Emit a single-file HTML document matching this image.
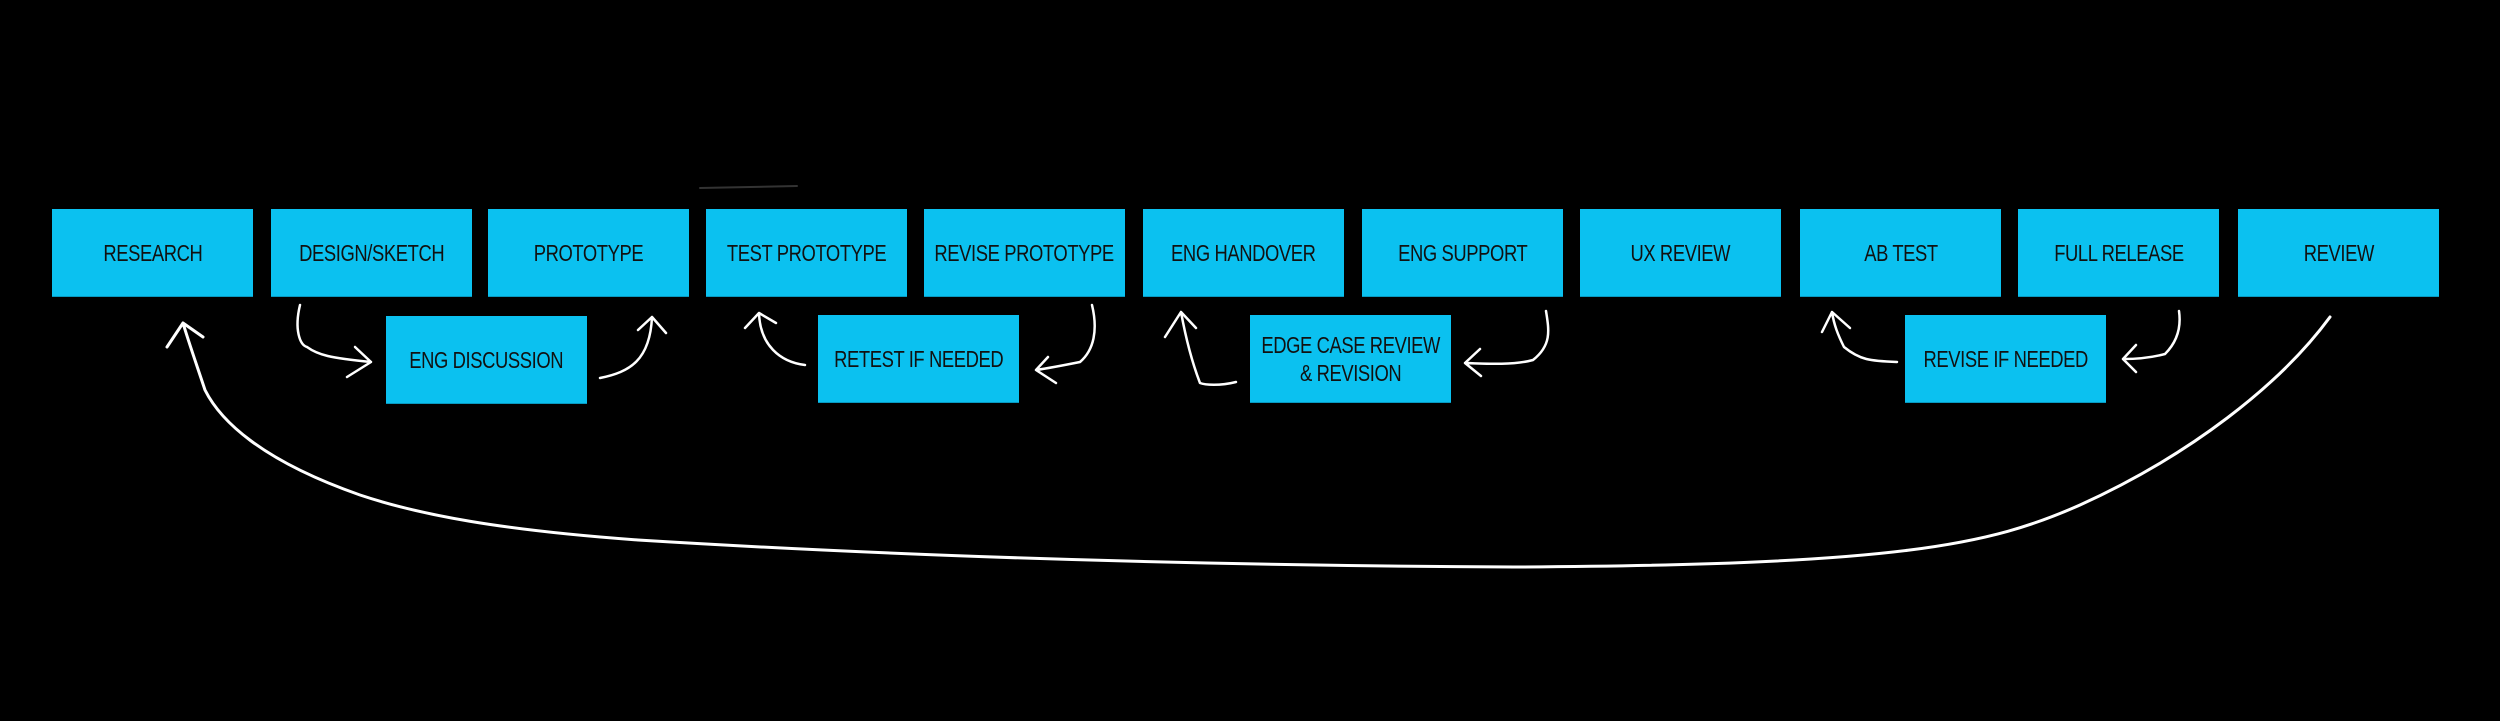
<!DOCTYPE html>
<html><head><meta charset="utf-8"><style>
html,body{margin:0;padding:0;background:#000;}
body{width:2500px;height:721px;position:relative;overflow:hidden;}
.b{position:absolute;width:201px;height:88px;background:#0bc1f0;border-bottom:1px solid #0899c0;box-sizing:border-box;display:flex;align-items:center;justify-content:center;text-align:center;}
.b span{display:inline-block;font-family:"Liberation Sans",sans-serif;font-size:23px;color:#111;transform:scaleX(0.8);white-space:nowrap;line-height:28px;letter-spacing:-0.5px;}
.t{top:209px;}
svg{position:absolute;left:0;top:0;}
</style></head><body>
<div class="b t" style="left:52px"><span>RESEARCH</span></div>
<div class="b t" style="left:271px"><span>DESIGN/SKETCH</span></div>
<div class="b t" style="left:488px"><span>PROTOTYPE</span></div>
<div class="b t" style="left:706px"><span>TEST PROTOTYPE</span></div>
<div class="b t" style="left:924px"><span>REVISE PROTOTYPE</span></div>
<div class="b t" style="left:1143px"><span>ENG HANDOVER</span></div>
<div class="b t" style="left:1362px"><span>ENG SUPPORT</span></div>
<div class="b t" style="left:1580px"><span>UX REVIEW</span></div>
<div class="b t" style="left:1800px"><span>AB TEST</span></div>
<div class="b t" style="left:2018px"><span>FULL RELEASE</span></div>
<div class="b t" style="left:2238px"><span>REVIEW</span></div>
<div class="b" style="left:386px;top:316px"><span>ENG DISCUSSION</span></div>
<div class="b" style="left:818px;top:315px"><span>RETEST IF NEEDED</span></div>
<div class="b" style="left:1250px;top:315px"><span>EDGE CASE REVIEW<br>&amp; REVISION</span></div>
<div class="b" style="left:1905px;top:315px"><span>REVISE IF NEEDED</span></div>
<svg width="2500" height="721" viewBox="0 0 2500 721" fill="none" stroke="#fff" stroke-width="2.5" stroke-linecap="round" stroke-linejoin="round">
<line x1="700" y1="188" x2="797" y2="186" stroke="#333" stroke-width="2"/>
<path d="M300,305 C294,330 300,345 307,347 C318,355 330,358 371,362 M355,347 L371,362 L347,377"/>
<path d="M600,378 C630,372 650,360 652,317 M638,330 L652,317 L666,333"/>
<path d="M805,365 C780,362 760,345 759,313 M745,328 L759,313 L776,323"/>
<path d="M1092,305 C1098,330 1094,350 1080,362 C1060,366 1050,368 1036,370 M1048,357 L1036,370 L1056,383"/>
<path d="M1236,382 C1220,386 1205,385 1200,383 C1195,370 1188,350 1181,312 M1165,337 L1181,312 L1196,328"/>
<path d="M1546,311 C1549,330 1552,345 1533,360 C1515,365 1490,364 1465,363 M1480,349 L1465,363 L1481,376"/>
<path d="M1897,362 C1870,361 1860,360 1844,347 C1838,335 1834,325 1832,312 M1822,332 L1832,312 L1850,328"/>
<path d="M2179,311 C2181,325 2179,340 2165,354 C2150,358 2135,359 2123,359 M2136,345 L2123,359 L2136,372"/>
<path d="M2330,317 C2280,385 2190,455 2080,505 C1990,545 1900,565 1514,567 C1100,565 800,550 638,540 C500,530 420,515 360,495 C260,460 220,420 205,390 C195,360 188,340 183,323 M167,347 L183,323 L203,337" stroke-width="3"/>
</svg>
</body></html>
